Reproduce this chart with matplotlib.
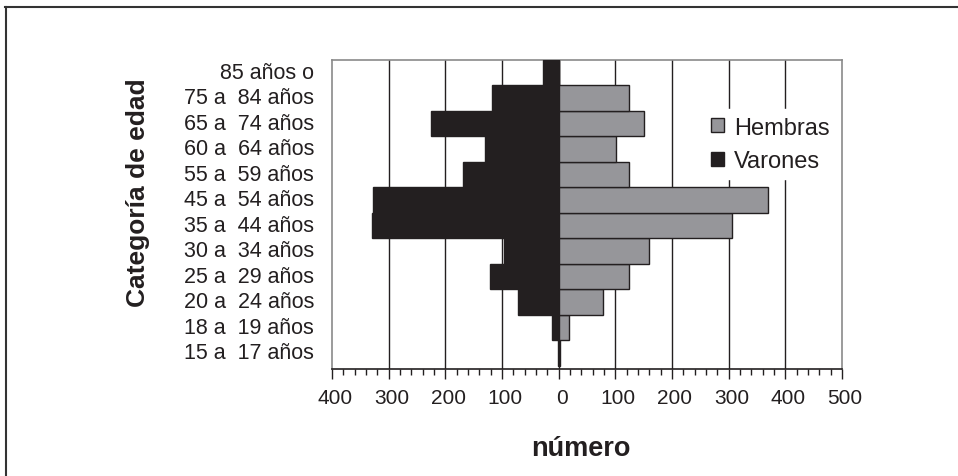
import numpy as np
import matplotlib
matplotlib.use("Agg")
import matplotlib.pyplot as plt
from matplotlib.patches import Patch
from matplotlib.lines import Line2D
from matplotlib.ticker import MultipleLocator, FuncFormatter
import matplotlib.transforms as mtransforms

plt.rcParams['font.family'] = ['Liberation Sans', 'DejaVu Sans']

# categorias de edad (de abajo hacia arriba)
categorias = ['15 a  17 años', '18 a  19 años', '20 a  24 años', '25 a  29 años',
              '30 a  34 años', '35 a  44 años', '45 a  54 años', '55 a  59 años',
              '60 a  64 años', '65 a  74 años', '75 a  84 años', '85 años o']
varones = [2, 12, 71, 122, 97, 330, 327, 169, 130, 226, 118, 28]
hembras = [3, 18, 78, 124, 159, 305, 370, 124, 102, 151, 124, 0]

negro = '#231f20'
gris = '#96969a'

fig = plt.figure(figsize=(9.58, 4.77), dpi=100)
ax = fig.add_axes([332 / 958, 1 - 370 / 477, 510 / 958, 309 / 477])

y = np.arange(len(categorias))
ax.barh(y, -np.array(varones), height=1.0, color=negro, edgecolor=negro, linewidth=1, zorder=3)
ax.barh(y, hembras, height=1.0, color=gris, edgecolor=negro, linewidth=1, zorder=3)

ax.set_xlim(-400, 500)
ax.set_ylim(-0.62, 11.5)

# lineas verticales de la cuadricula
for xv in range(-300, 500, 100):
    ax.axvline(xv, color=negro, linewidth=1.0, zorder=1)

ax.xaxis.set_major_locator(MultipleLocator(100))
ax.xaxis.set_minor_locator(MultipleLocator(20))
ax.xaxis.set_major_formatter(FuncFormatter(lambda v, p: f'{abs(int(round(v)))}'))
ax.tick_params(axis='x', which='major', direction='out', length=7, width=1, color=negro,
               labelsize=15, pad=7, labelcolor=negro)
ax.tick_params(axis='x', which='minor', direction='out', length=4, width=1, color=negro)
off = mtransforms.ScaledTranslation(3 / 100, 0, fig.dpi_scale_trans)
for lab in ax.get_xticklabels():
    lab.set_transform(lab.get_transform() + off)

ax.set_yticks(y)
ax.set_yticklabels(categorias)
ax.tick_params(axis='y', length=0, pad=13, labelsize=15.5, labelcolor=negro)
offy = mtransforms.ScaledTranslation(0, 3 / 100, fig.dpi_scale_trans)
for lab in ax.get_yticklabels():
    lab.set_transform(lab.get_transform() + offy)

for s in ['left', 'top', 'right']:
    ax.spines[s].set_color('#8a8a8a')
    ax.spines[s].set_linewidth(1.2)
ax.spines['bottom'].set_color(negro)
ax.spines['bottom'].set_linewidth(1.2)

ax.text(-0.38, 0.574, 'Categoría de edad', transform=ax.transAxes, rotation=90,
        ha='center', va='center', fontsize=19, fontweight='bold', color=negro)
ax.text(0.488, -0.255, 'número', transform=ax.transAxes, ha='center', va='center',
        fontsize=19.5, fontweight='bold', color=negro)

handles = [Patch(facecolor=gris, edgecolor=negro, linewidth=1),
           Patch(facecolor=negro, edgecolor=negro, linewidth=1)]
leg = ax.legend(handles, ['Hembras', 'Varones'], loc='upper left',
                bbox_to_anchor=(0.73, 0.84), fontsize=17, frameon=True,
                facecolor='white', edgecolor='white', framealpha=1, fancybox=False,
                handlelength=0.55, handleheight=0.55, handletextpad=0.4,
                labelspacing=0.5, borderpad=0.3, borderaxespad=0)
for t in leg.get_texts():
    t.set_color(negro)
leg.set_zorder(5)

# marco exterior
fig.add_artist(Line2D([5 / 958, 1.0], [1 - 8 / 477, 1 - 8 / 477], transform=fig.transFigure,
                      color='#333333', linewidth=1.5))
fig.add_artist(Line2D([6 / 958, 6 / 958], [0, 1 - 8 / 477], transform=fig.transFigure,
                      color='#333333', linewidth=1.5))

fig.savefig('out.png', dpi=100, facecolor='white')
